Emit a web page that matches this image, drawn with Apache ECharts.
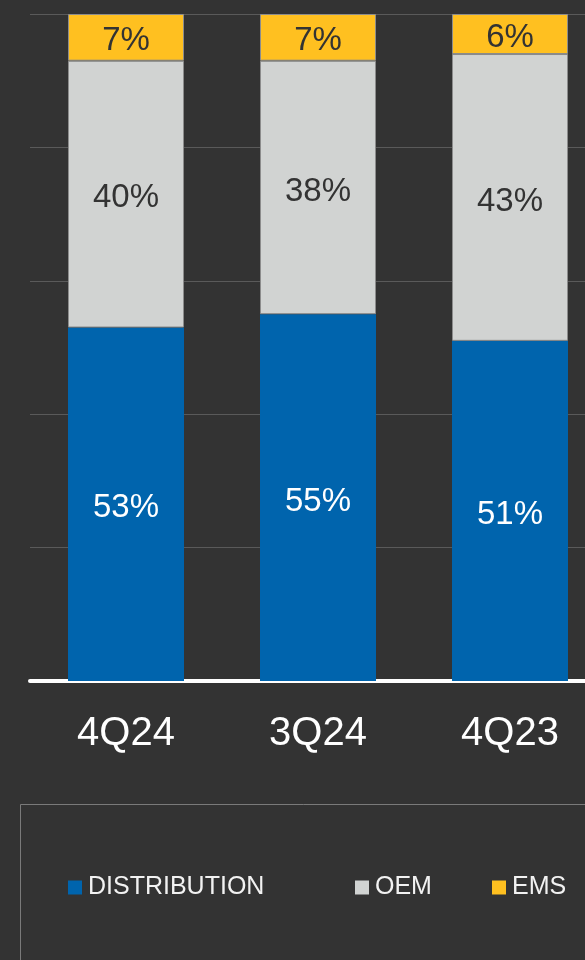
<!DOCTYPE html>
<html>
<head>
<meta charset="utf-8">
<script src="https://cdn.jsdelivr.net/npm/echarts@6/dist/echarts.min.js"></script>
<style>
  html, body { margin: 0; padding: 0; background: #333333; }
  #chart { width: 585px; height: 960px; }
</style>
</head>
<body>
<div id="chart"></div>
<script>
// Quarterly revenue mix by channel (percent of total)
const categories = ['4Q24', '3Q24', '4Q23'];
const distribution = [53, 55, 51];
const oem = [40, 38, 43];
const ems = [7, 7, 6];
const seriesNames = ['DISTRIBUTION', 'OEM', 'EMS'];

const COLORS = { distribution: '#0064AD', oem: '#D1D3D2', ems: '#FFC020' };
const FONT = '"Liberation Sans", Arial, Helvetica, sans-serif';

const chart = echarts.init(document.getElementById('chart'), null, { renderer: 'canvas' });

function segment(name, data, color, labelColor, border) {
  return {
    name: name,
    type: 'bar',
    stack: 'mix',
    data: data,
    barWidth: 116,
    itemStyle: {
      color: color,
      borderColor: border ? '#8c8c8c' : color,
      borderWidth: border ? 1 : 0
    },
    label: {
      show: true,
      position: 'inside',
      offset: [0, 4],
      formatter: '{c}%',
      color: labelColor,
      fontSize: 33,
      fontFamily: FONT
    },
    emphasis: { disabled: true },
    animation: false
  };
}

function legendAt(left, name) {
  return {
    left: left,
    top: 875,
    padding: 0,
    data: [name],
    icon: 'rect',
    itemWidth: 14,
    itemHeight: 14,
    itemGap: 0,
    selectedMode: false,
    itemStyle: { borderWidth: 0 },
    textStyle: { color: '#F2F2F2', fontSize: 25, fontFamily: FONT, padding: [0, 0, 0, 1] }
  };
}

chart.setOption({
  backgroundColor: '#333333',
  animation: false,
  // plot area runs past the right edge of the canvas
  grid: { left: 30, top: 14, width: 576, bottom: 279, containLabel: false, outerBoundsMode: 'none' },
  legend: [
    legendAt(68, seriesNames[0]),
    legendAt(355, seriesNames[1]),
    legendAt(492, seriesNames[2])
  ],
  xAxis: {
    type: 'category',
    data: categories,
    axisLine: { show: true, lineStyle: { color: '#FFFFFF', width: 4 } },
    axisTick: { show: false },
    axisLabel: { color: '#FFFFFF', fontSize: 40, fontFamily: FONT, margin: 33 }
  },
  yAxis: {
    type: 'value',
    min: 0,
    max: 100,
    interval: 20,
    axisLine: { show: false },
    axisTick: { show: false },
    axisLabel: { show: false },
    splitLine: { show: true, lineStyle: { color: '#5A5A5A', width: 1 } }
  },
  graphic: [
    {
      type: 'rect',
      shape: { x: 20.5, y: 804.5, width: 600, height: 200 },
      style: { fill: 'none', stroke: '#7A7A7A', lineWidth: 1 },
      silent: true,
      z: -1
    }
  ],
  series: [
    segment(seriesNames[0], distribution, COLORS.distribution, '#FFFFFF', false),
    segment(seriesNames[1], oem, COLORS.oem, '#333333', true),
    segment(seriesNames[2], ems, COLORS.ems, '#333333', true)
  ]
});
</script>
</body>
</html>
